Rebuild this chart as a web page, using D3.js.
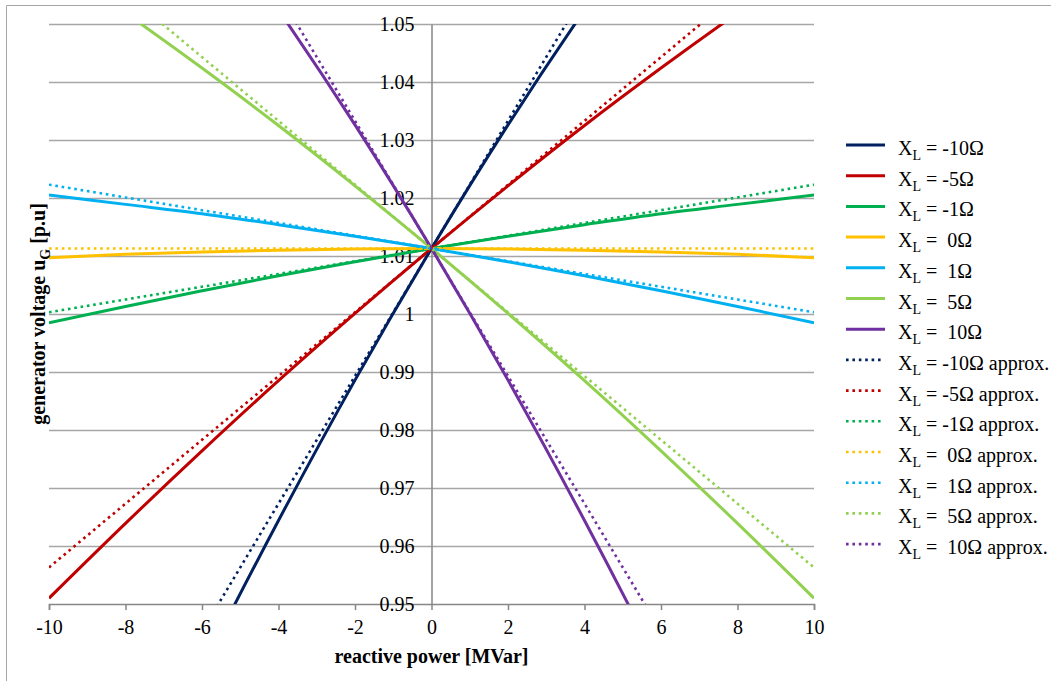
<!DOCTYPE html>
<html>
<head>
<meta charset="utf-8">
<script src="https://cdn.jsdelivr.net/npm/d3@7"></script>
<style>
  html, body { margin: 0; padding: 0; background: #fff; }
  svg { display: block; }
  text { font-family: "Liberation Serif", "Times New Roman", serif; fill: #000; }
</style>
</head>
<body>
<svg id="chart" width="1051" height="681"></svg>
<script>
// Reactive power grid [MVar]
const reactivePower = [-10, -8, -6, -4, -2, 0, 2, 4, 6, 8, 10];

// Generator voltage [p.u.] — exact solution per line reactance X_L
const exactXLm10 = [0.8832, 0.9117, 0.9388, 0.9644, 0.9886, 1.0113, 1.0326, 1.0524, 1.0708, 1.0877, 1.1032];
const exactXLm5  = [0.9510, 0.9639, 0.9764, 0.9885, 1.0001, 1.0113, 1.0221, 1.0325, 1.0424, 1.0519, 1.0610];
const exactXLm1  = [0.9985, 1.0013, 1.0040, 1.0066, 1.0090, 1.0113, 1.0134, 1.0154, 1.0173, 1.0189, 1.0205];
const exactXL0   = [1.0097, 1.0103, 1.0107, 1.0110, 1.0112, 1.0113, 1.0112, 1.0110, 1.0107, 1.0103, 1.0097];
const exactXLp1  = [1.0205, 1.0189, 1.0173, 1.0154, 1.0134, 1.0113, 1.0090, 1.0066, 1.0040, 1.0013, 0.9985];
const exactXLp5  = [1.0610, 1.0519, 1.0424, 1.0325, 1.0221, 1.0113, 1.0001, 0.9885, 0.9764, 0.9639, 0.9510];
const exactXLp10 = [1.1032, 1.0877, 1.0708, 1.0524, 1.0326, 1.0113, 0.9886, 0.9644, 0.9388, 0.9117, 0.8832];

// Generator voltage [p.u.] — linear approximation
const approxXLm10 = [0.9013, 0.9233, 0.9453, 0.9673, 0.9893, 1.0113, 1.0333, 1.0553, 1.0773, 1.0993, 1.1213];
const approxXLm5  = [0.9563, 0.9673, 0.9783, 0.9893, 1.0003, 1.0113, 1.0223, 1.0333, 1.0443, 1.0553, 1.0663];
const approxXLm1  = [1.0003, 1.0025, 1.0047, 1.0069, 1.0091, 1.0113, 1.0135, 1.0157, 1.0179, 1.0201, 1.0223];
const approxXL0   = [1.0113, 1.0113, 1.0113, 1.0113, 1.0113, 1.0113, 1.0113, 1.0113, 1.0113, 1.0113, 1.0113];
const approxXLp1  = [1.0223, 1.0201, 1.0179, 1.0157, 1.0135, 1.0113, 1.0091, 1.0069, 1.0047, 1.0025, 1.0003];
const approxXLp5  = [1.0663, 1.0553, 1.0443, 1.0333, 1.0223, 1.0113, 1.0003, 0.9893, 0.9783, 0.9673, 0.9563];
const approxXLp10 = [1.1213, 1.0993, 1.0773, 1.0553, 1.0333, 1.0113, 0.9893, 0.9673, 0.9453, 0.9233, 0.9013];

// Legend labels (reactance part after "X_L = ")
const reactanceLabels = ["-10Ω", "-5Ω", "-1Ω", "\u00a00Ω", "\u00a01Ω", "\u00a05Ω", "\u00a010Ω"];
const seriesColors = ["#002060", "#C00000", "#00B050", "#FFC000", "#00B0F0", "#92D050", "#7030A0"];

// Axis ticks
const xTicks = [-10, -8, -6, -4, -2, 0, 2, 4, 6, 8, 10];
const yTicks = [0.95, 0.96, 0.97, 0.98, 0.99, 1, 1.01, 1.02, 1.03, 1.04, 1.05];

const exactSeries = [exactXLm10, exactXLm5, exactXLm1, exactXL0, exactXLp1, exactXLp5, exactXLp10];
const approxSeries = [approxXLm10, approxXLm5, approxXLm1, approxXL0, approxXLp1, approxXLp5, approxXLp10];

const series = [
  ...exactSeries.map((vals, i) => ({ vals, color: seriesColors[i], label: reactanceLabels[i], suffix: "", dotted: false })),
  ...approxSeries.map((vals, i) => ({ vals, color: seriesColors[i], label: reactanceLabels[i], suffix: " approx.", dotted: true }))
];

const svg = d3.select("#chart");
const plot = { left: 49, right: 814, top: 24, bottom: 604 };
const fontSize = "20px";

const x = d3.scaleLinear().domain([-10, 10]).range([plot.left, plot.right]);
const y = d3.scaleLinear().domain([0.95, 1.05]).range([plot.bottom, plot.top]);

// chart frame (top and left edges)
svg.append("line").attr("x1", 6.5).attr("x2", 1051).attr("y1", 5.5).attr("y2", 5.5)
  .attr("stroke", "#a6a6a6").attr("stroke-width", 1);
svg.append("line").attr("x1", 6.5).attr("x2", 6.5).attr("y1", 5.5).attr("y2", 681)
  .attr("stroke", "#a6a6a6").attr("stroke-width", 1);

// horizontal gridlines
svg.append("g")
  .selectAll("line")
  .data(yTicks.filter(t => t !== 0.95))
  .join("line")
  .attr("x1", plot.left).attr("x2", plot.right)
  .attr("y1", d => Math.round(y(d)) + 0.5).attr("y2", d => Math.round(y(d)) + 0.5)
  .attr("stroke", "#a6a6a6").attr("stroke-width", 1.3);

// x axis along the bottom
const xAxis = d3.axisBottom(x).tickValues(xTicks).tickSize(6).tickPadding(10).tickFormat(d3.format("d"));
const gx = svg.append("g").attr("transform", `translate(0,${plot.bottom})`).call(xAxis);
gx.select(".domain").attr("stroke", "#868686").attr("stroke-width", 1.5);
gx.selectAll(".tick line").attr("stroke", "#868686").attr("stroke-width", 1.5);
gx.selectAll(".tick text").attr("font-size", fontSize).attr("font-family", "Liberation Serif")
  .text(d => d < 0 ? "-" + Math.abs(d) : String(d));

// y axis crossing at zero reactive power
const yAxis = d3.axisLeft(y).tickValues(yTicks).tickSize(0).tickPadding(17)
  .tickFormat(d => d3.format("")(+d.toFixed(2)));
const gy = svg.append("g").attr("transform", `translate(${x(0)},0)`).call(yAxis);
gy.select(".domain").attr("stroke", "#868686").attr("stroke-width", 1.5);
gy.selectAll(".tick text").attr("font-size", fontSize).attr("font-family", "Liberation Serif");

// clip the curves to the plot area
svg.append("clipPath").attr("id", "plotClip")
  .append("rect").attr("x", plot.left).attr("y", plot.top)
  .attr("width", plot.right - plot.left).attr("height", plot.bottom - plot.top);

const line = d3.line()
  .x((d, i) => x(reactivePower[i]))
  .y(d => y(d))
  .curve(d3.curveMonotoneX);

const gLines = svg.append("g").attr("clip-path", "url(#plotClip)");
gLines.selectAll("path")
  .data(series)
  .join("path")
  .attr("d", d => line(d.vals))
  .attr("fill", "none")
  .attr("stroke", d => d.color)
  .attr("stroke-width", d => d.dotted ? 2.6 : 3)
  .attr("stroke-dasharray", d => d.dotted ? "2.6,3.8" : null);

// legend
const legend = svg.append("g").attr("transform", "translate(846,145)");
const item = legend.selectAll("g")
  .data(series)
  .join("g")
  .attr("transform", (d, i) => `translate(0,${i * 30.7})`);
item.append("line")
  .attr("x1", 0).attr("x2", d => d.dotted ? 36 : 39)
  .attr("y1", 0).attr("y2", 0)
  .attr("stroke", d => d.color)
  .attr("stroke-width", d => d.dotted ? 2.6 : 3)
  .attr("stroke-dasharray", d => d.dotted ? "2.6,3.8" : null);
const label = item.append("text")
  .attr("x", 52).attr("y", 10)
  .attr("font-size", fontSize)
  .attr("xml:space", "preserve");
label.append("tspan").text("X");
label.append("tspan").attr("font-size", "14px").attr("dy", 5).text("L");
label.append("tspan").attr("dy", -5).text(d => " = " + d.label + d.suffix);

// axis titles
svg.append("text")
  .attr("x", x(0)).attr("y", 663)
  .attr("text-anchor", "middle")
  .attr("font-size", fontSize).attr("font-weight", "bold")
  .text("reactive power [MVar]");

const yTitle = svg.append("text")
  .attr("transform", `translate(45,${(plot.top + plot.bottom) / 2}) rotate(-90)`)
  .attr("text-anchor", "middle")
  .attr("font-size", fontSize).attr("font-weight", "bold");
yTitle.append("tspan").text("generator voltage u");
yTitle.append("tspan").attr("font-size", "14px").attr("dy", 5).text("G");
yTitle.append("tspan").attr("dy", -5).text(" [p.u]");
</script>
</body>
</html>
